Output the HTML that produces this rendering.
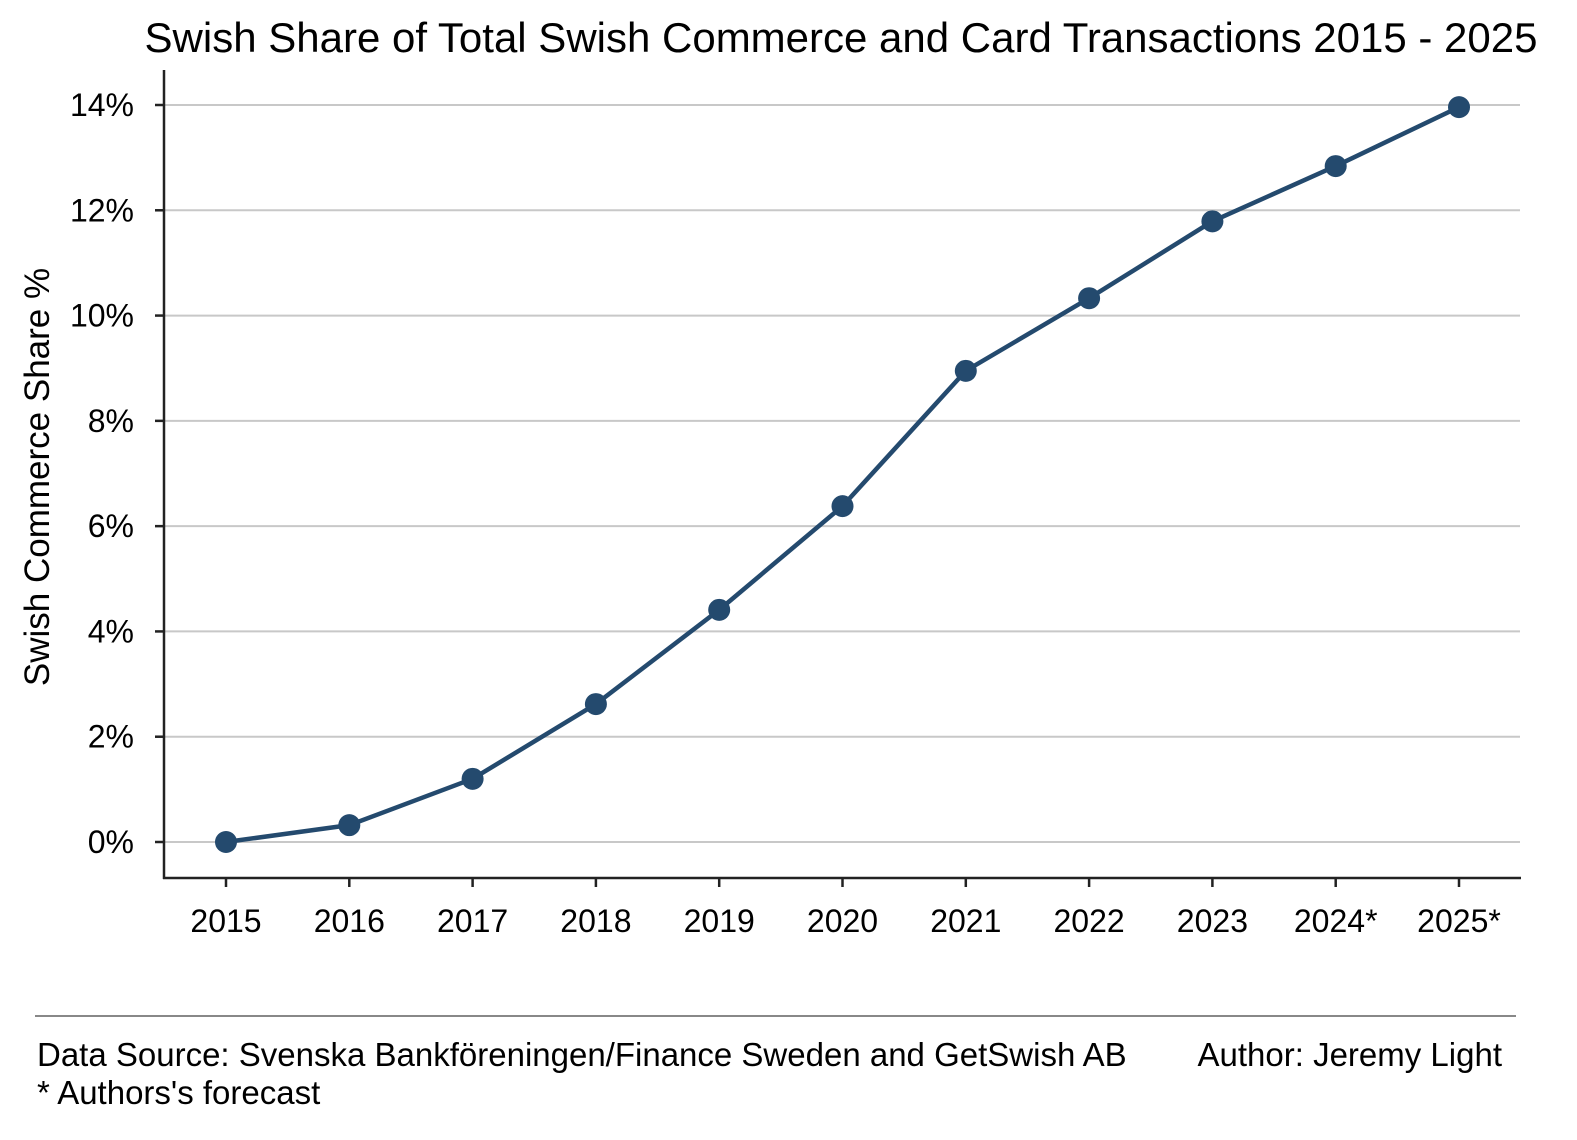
<!DOCTYPE html>
<html><head><meta charset="utf-8"><style>
body{margin:0;background:#fff}
svg{display:block;font-family:"Liberation Sans",Arial,sans-serif}
</style></head><body>
<svg id="chart" width="1577" height="1140" viewBox="0 0 1577 1140">
<text x="841" y="52" text-anchor="middle" font-size="42" fill="#000">Swish Share of Total Swish Commerce and Card Transactions 2015 - 2025</text>
<g id="grid"></g>
<g id="yticks"></g>
<g id="xticks"></g>
<line x1="164" y1="70" x2="164" y2="879" stroke="#222" stroke-width="2.5"/>
<line x1="163" y1="878" x2="1521" y2="878" stroke="#222" stroke-width="2.5"/>
<g id="series"></g>
<text transform="translate(49,477) rotate(-90)" text-anchor="middle" font-size="35" fill="#000">Swish Commerce Share %</text>
<line x1="35" y1="1016" x2="1516" y2="1016" stroke="#888" stroke-width="2"/>
<text x="37" y="1066" font-size="33" fill="#000">Data Source: Svenska Bankföreningen/Finance Sweden and GetSwish AB</text>
<text x="1502" y="1066" text-anchor="end" font-size="33" fill="#000">Author: Jeremy Light</text>
<text x="37" y="1104" font-size="33" fill="#000">* Authors's forecast</text>
</svg>
<script>
const categories=["2015","2016","2017","2018","2019","2020","2021","2022","2023","2024*","2025*"];
const shareValues=[0,0.32,1.20,2.62,4.41,6.38,8.95,10.33,11.79,12.84,13.96];
const yTicks=[0,2,4,6,8,10,12,14];
const yTickLabels=["0%","2%","4%","6%","8%","10%","12%","14%"];
const NS="http://www.w3.org/2000/svg";
function xs(i){return 226+i*(1459-226)/10;}
function ys(v){return 842-v*(842-105)/14;}
function mk(t,a,p){const e=document.createElementNS(NS,t);for(const k in a)e.setAttribute(k,a[k]);p.appendChild(e);return e;}
const grid=document.getElementById('grid'),yt=document.getElementById('yticks'),xt=document.getElementById('xticks'),se=document.getElementById('series');
yTicks.forEach((v,i)=>{
 const g=mk('line',{x1:164,x2:1520,y1:ys(v),y2:ys(v),stroke:'#c8c8c8','stroke-width':2},grid);
 
 
 const tk=mk('line',{x1:155,x2:164,y1:ys(v),y2:ys(v),stroke:'#222','stroke-width':2.5},yt);
 
 
 const t=mk('text',{x:134,y:ys(v)+11,'text-anchor':'end','font-size':32},yt);
 t.textContent=yTickLabels[i];
 
 
});
categories.forEach((c,i)=>{
 const tk=mk('line',{x1:xs(i),x2:xs(i),y1:878,y2:887,stroke:'#222','stroke-width':2.5},xt);
 
 
 const t=mk('text',{x:xs(i),y:932,'text-anchor':'middle','font-size':32},xt);
 t.textContent=c;
 
 
});
const pts=shareValues.map((v,i)=>xs(i)+','+ys(v)).join(' ');
const pl=mk('polyline',{points:pts,fill:'none',stroke:'#244a6e','stroke-width':4.5,'stroke-linejoin':'round'},se);


shareValues.forEach((v,i)=>{
 const c=mk('circle',{cx:xs(i),cy:ys(v),r:11,fill:'#244a6e'},se);
 
 
});
</script>
</body></html>
